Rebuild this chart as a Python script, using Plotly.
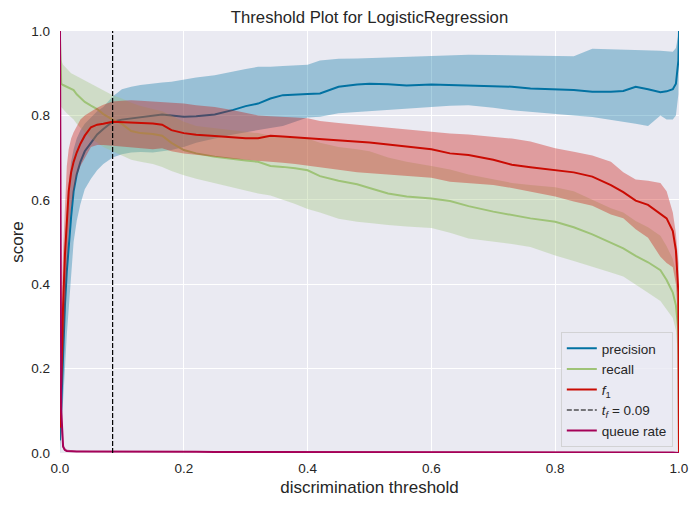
import plotly.graph_objects as go

# ---------------- data ----------------
thresholds = [0, 0.002, 0.005, 0.008, 0.011, 0.014, 0.018, 0.022, 0.027, 0.033,
              0.04, 0.05, 0.06, 0.07, 0.085, 0.1, 0.115, 0.13, 0.15, 0.165,
              0.18, 0.2, 0.22, 0.25, 0.28, 0.3, 0.32, 0.34, 0.36, 0.38,
              0.4, 0.42, 0.45, 0.48, 0.5, 0.53, 0.56, 0.6, 0.63, 0.66,
              0.7, 0.73, 0.76, 0.8, 0.83, 0.86, 0.89, 0.91, 0.93, 0.95,
              0.97, 0.98, 0.99, 0.995, 0.999, 1.0]

precision = [0.03, 0.12, 0.25, 0.35, 0.43, 0.49, 0.56, 0.62, 0.66, 0.69,
             0.715, 0.735, 0.755, 0.768, 0.785, 0.79, 0.793, 0.795, 0.80, 0.802,
             0.80, 0.797, 0.798, 0.802, 0.813, 0.822, 0.828, 0.84, 0.848, 0.85,
             0.851, 0.852, 0.868, 0.873, 0.875, 0.874, 0.871, 0.873, 0.872, 0.871,
             0.87, 0.868, 0.864, 0.862, 0.86, 0.856, 0.856, 0.858, 0.868, 0.862,
             0.855, 0.857, 0.862, 0.875, 0.93, 1.0]
precision_hi = [0.06, 0.2, 0.38, 0.5, 0.58, 0.64, 0.69, 0.72, 0.745, 0.765,
                0.78, 0.795, 0.81, 0.82, 0.845, 0.862, 0.868, 0.872, 0.876, 0.878,
                0.88, 0.885, 0.89, 0.895, 0.905, 0.91, 0.915, 0.915, 0.917, 0.918,
                0.92, 0.93, 0.934, 0.935, 0.936, 0.938, 0.94, 0.942, 0.943, 0.944,
                0.943, 0.942, 0.941, 0.94, 0.94, 0.958, 0.957, 0.956, 0.955, 0.954,
                0.953, 0.952, 0.951, 0.96, 0.99, 1.0]
precision_lo = [0.0, 0.06, 0.13, 0.2, 0.28, 0.35, 0.42, 0.5, 0.55, 0.59,
                0.625, 0.65, 0.67, 0.685, 0.70, 0.708, 0.712, 0.713, 0.712, 0.715,
                0.718, 0.725, 0.735, 0.745, 0.755, 0.76, 0.765, 0.77, 0.775, 0.785,
                0.795, 0.797, 0.805, 0.808, 0.81, 0.813, 0.817, 0.82, 0.823, 0.824,
                0.818, 0.812, 0.808, 0.804, 0.80, 0.796, 0.79, 0.785, 0.78, 0.775,
                0.80, 0.79, 0.79, 0.80, 0.85, 1.0]

recall = [0.98, 0.875, 0.872, 0.87, 0.868, 0.866, 0.862, 0.86, 0.85, 0.842,
          0.832, 0.823, 0.815, 0.803, 0.79, 0.78, 0.763, 0.758, 0.756, 0.752,
          0.735, 0.718, 0.71, 0.702, 0.696, 0.693, 0.69, 0.68, 0.678, 0.675,
          0.67, 0.656, 0.645, 0.637, 0.628, 0.615, 0.608, 0.603, 0.597, 0.585,
          0.572, 0.564, 0.556, 0.548, 0.535, 0.518, 0.498, 0.485, 0.467, 0.452,
          0.433, 0.41, 0.38, 0.35, 0.29, 0.0]
recall_hi = [1.0, 0.93, 0.92, 0.915, 0.91, 0.905, 0.90, 0.897, 0.893, 0.888,
             0.882, 0.874, 0.866, 0.858, 0.848, 0.84, 0.83, 0.822, 0.815, 0.81,
             0.80, 0.785, 0.775, 0.77, 0.765, 0.762, 0.758, 0.752, 0.75, 0.748,
             0.745, 0.735, 0.725, 0.72, 0.715, 0.70, 0.69, 0.68, 0.672, 0.66,
             0.648, 0.64, 0.635, 0.63, 0.62, 0.60, 0.58, 0.57, 0.55, 0.535,
             0.515, 0.49, 0.46, 0.43, 0.36, 0.0]
recall_lo = [0.95, 0.82, 0.815, 0.81, 0.805, 0.80, 0.795, 0.79, 0.78, 0.77,
             0.76, 0.745, 0.735, 0.725, 0.715, 0.705, 0.695, 0.69, 0.685, 0.678,
             0.668, 0.658, 0.65, 0.638, 0.628, 0.622, 0.615, 0.61, 0.60, 0.59,
             0.578, 0.57, 0.555, 0.548, 0.545, 0.54, 0.537, 0.533, 0.522, 0.508,
             0.50, 0.495, 0.488, 0.468, 0.455, 0.442, 0.428, 0.418, 0.398, 0.38,
             0.36, 0.34, 0.32, 0.29, 0.22, 0.0]

f1 = [0.06, 0.2, 0.35, 0.47, 0.56, 0.62, 0.665, 0.69, 0.712, 0.733,
      0.752, 0.772, 0.778, 0.78, 0.785, 0.784, 0.782, 0.781, 0.781, 0.778,
      0.765, 0.758, 0.754, 0.751, 0.748, 0.746, 0.746, 0.752, 0.75, 0.748,
      0.746, 0.743, 0.741, 0.738, 0.736, 0.731, 0.727, 0.72, 0.71, 0.706,
      0.695, 0.683, 0.677, 0.671, 0.665, 0.655, 0.635, 0.618, 0.598, 0.588,
      0.568, 0.556, 0.526, 0.48, 0.38, 0.0]
f1_hi = [0.1, 0.32, 0.48, 0.6, 0.68, 0.72, 0.745, 0.76, 0.775, 0.79,
         0.80, 0.81, 0.818, 0.825, 0.833, 0.835, 0.836, 0.835, 0.833, 0.832,
         0.83, 0.828, 0.824, 0.82, 0.812, 0.806, 0.80, 0.798, 0.797, 0.795,
         0.793, 0.787, 0.782, 0.778, 0.775, 0.77, 0.766, 0.762, 0.757, 0.755,
         0.75, 0.745, 0.738, 0.722, 0.714, 0.705, 0.69, 0.665, 0.648, 0.645,
         0.64, 0.62, 0.57, 0.52, 0.45, 0.0]
f1_lo = [0.02, 0.1, 0.22, 0.33, 0.43, 0.52, 0.58, 0.62, 0.655, 0.68,
         0.70, 0.725, 0.73, 0.73, 0.728, 0.726, 0.724, 0.722, 0.72, 0.722,
         0.715, 0.71, 0.706, 0.702, 0.697, 0.694, 0.692, 0.69, 0.688, 0.685,
         0.682, 0.677, 0.671, 0.665, 0.662, 0.659, 0.656, 0.652, 0.643, 0.64,
         0.635, 0.628, 0.62, 0.608, 0.596, 0.586, 0.565, 0.556, 0.53, 0.51,
         0.465, 0.45, 0.44, 0.40, 0.30, 0.0]

queue_rate = [1.0, 0.1, 0.015, 0.007, 0.005, 0.0045, 0.004, 0.004, 0.0038, 0.0036,
              0.0035, 0.0034, 0.0033, 0.0032, 0.0031, 0.003, 0.003, 0.0029, 0.0029, 0.0028,
              0.0028, 0.0027, 0.0027, 0.0026, 0.0026, 0.0025, 0.0025, 0.0024, 0.0024, 0.0023,
              0.0023, 0.0022, 0.0022, 0.0021, 0.0021, 0.002, 0.002, 0.0019, 0.0019, 0.0018,
              0.0018, 0.0017, 0.0017, 0.0016, 0.0016, 0.0015, 0.0015, 0.0014, 0.0014, 0.0013,
              0.0012, 0.0011, 0.001, 0.0008, 0.0005, 0.0]
queue_hi = [1.0, 0.16, 0.025, 0.011, 0.008, 0.007, 0.006, 0.006, 0.0055, 0.005,
            0.005, 0.005, 0.0048, 0.0046, 0.0045, 0.0044, 0.0043, 0.0042, 0.0041, 0.004,
            0.004, 0.0039, 0.0038, 0.0037, 0.0036, 0.0035, 0.0035, 0.0034, 0.0033, 0.0032,
            0.0032, 0.0031, 0.003, 0.003, 0.0029, 0.0028, 0.0028, 0.0027, 0.0026, 0.0025,
            0.0025, 0.0024, 0.0023, 0.0022, 0.0022, 0.0021, 0.002, 0.002, 0.0019, 0.0018,
            0.0017, 0.0015, 0.0014, 0.0011, 0.0008, 0.0]
queue_lo = [1.0, 0.05, 0.008, 0.004, 0.003, 0.0025, 0.0022, 0.0021, 0.002, 0.002,
            0.002, 0.0019, 0.0018, 0.0018, 0.0017, 0.0017, 0.0016, 0.0016, 0.0016, 0.0015,
            0.0015, 0.0015, 0.0014, 0.0014, 0.0014, 0.0013, 0.0013, 0.0013, 0.0012, 0.0012,
            0.0012, 0.0011, 0.0011, 0.0011, 0.001, 0.001, 0.001, 0.0009, 0.0009, 0.0009,
            0.0008, 0.0008, 0.0008, 0.0007, 0.0007, 0.0007, 0.0006, 0.0006, 0.0006, 0.0005,
            0.0005, 0.0004, 0.0004, 0.0003, 0.0002, 0.0]

best_threshold = 0.085
best_label = "0.09"

x_ticks = [0.0, 0.2, 0.4, 0.6, 0.8, 1.0]
y_ticks = [0.0, 0.2, 0.4, 0.6, 0.8, 1.0]

# ---------------- styling ----------------
colors = {
    "precision": "#0272a2",
    "recall": "#9fc377",
    "f1": "#ca0b03",
    "queue": "#a50258",
}

def rgba(hex_color, alpha):
    h = hex_color.lstrip("#")
    r, g, b = int(h[0:2], 16), int(h[2:4], 16), int(h[4:6], 16)
    return f"rgba({r},{g},{b},{alpha})"

series = [
    ("precision", "precision", precision, precision_lo, precision_hi, colors["precision"], 1),
    ("recall", "recall", recall, recall_lo, recall_hi, colors["recall"], 2),
    ("f1", "<i>f</i><sub>1</sub>", f1, f1_lo, f1_hi, colors["f1"], 3),
    ("queue", "queue rate", queue_rate, queue_lo, queue_hi, colors["queue"], 5),
]

fig = go.Figure()

for key, label, mean, lo, hi, col, rank in series:
    fig.add_trace(go.Scatter(
        x=thresholds, y=mean, mode="lines", name=label,
        line=dict(color=col, width=2), legendrank=rank, hoverinfo="skip",
    ))
    fig.add_trace(go.Scatter(
        x=list(thresholds) + list(thresholds)[::-1],
        y=list(hi) + list(lo)[::-1],
        fill="toself", fillcolor=rgba(col, 0.35),
        line=dict(width=0, color=rgba(col, 0)),
        mode="lines", showlegend=False, hoverinfo="skip",
    ))

fig.add_trace(go.Scatter(
    x=[best_threshold, best_threshold], y=[0, 1], mode="lines",
    name=f"<i>t<sub>f</sub></i> = {best_label}",
    line=dict(color="black", width=1.2, dash="5px,2px"),
    legendrank=4, hoverinfo="skip",
))

font_family = "Liberation Sans, Arial, sans-serif"
text_col = "#262626"

# The page is shown with an 8px body offset; margins compensate for it so the
# plot area lands at the reference position inside the 699x506 window.
OFF = 8
fig.update_layout(
    width=699, height=506,
    margin=dict(l=60 - OFF, r=20 + OFF, t=31 - OFF, b=53 + OFF),
    paper_bgcolor="white",
    plot_bgcolor="#EAEAF2",
    font=dict(family=font_family, color=text_col, size=13.5),
    title=dict(
        text="Threshold Plot for LogisticRegression",
        x=0.5, xref="paper", xanchor="center",
        y=1 - (17 - OFF) / 506, yref="container", yanchor="middle",
        font=dict(size=16.7, color=text_col),
    ),
    showlegend=True,
    legend=dict(
        x=0.99, y=0.014, xanchor="right", yanchor="bottom",
        bgcolor="rgba(234,234,242,0.8)",
        bordercolor="rgba(204,204,204,0.8)", borderwidth=1,
        font=dict(size=13.5, color=text_col),
        itemwidth=30, tracegroupgap=0,
    ),
)

fig.update_xaxes(
    range=[0, 1], tickvals=x_ticks, tickformat=".1f",
    showgrid=True, gridcolor="white", gridwidth=1,
    zeroline=False, showline=False, ticks="", ticklabelstandoff=5,
    automargin=False,
    tickfont=dict(size=13.5, color=text_col),
    title=dict(text="discrimination threshold", font=dict(size=17, color=text_col), standoff=6),
)
fig.update_yaxes(
    range=[0, 1], tickvals=y_ticks, tickformat=".1f",
    showgrid=True, gridcolor="white", gridwidth=1,
    zeroline=False, showline=False, ticks="", ticklabelstandoff=9,
    automargin=False,
    tickfont=dict(size=13.5, color=text_col),
    title=dict(text="score", font=dict(size=17, color=text_col), standoff=6),
)

fig.write_html("out.html")
